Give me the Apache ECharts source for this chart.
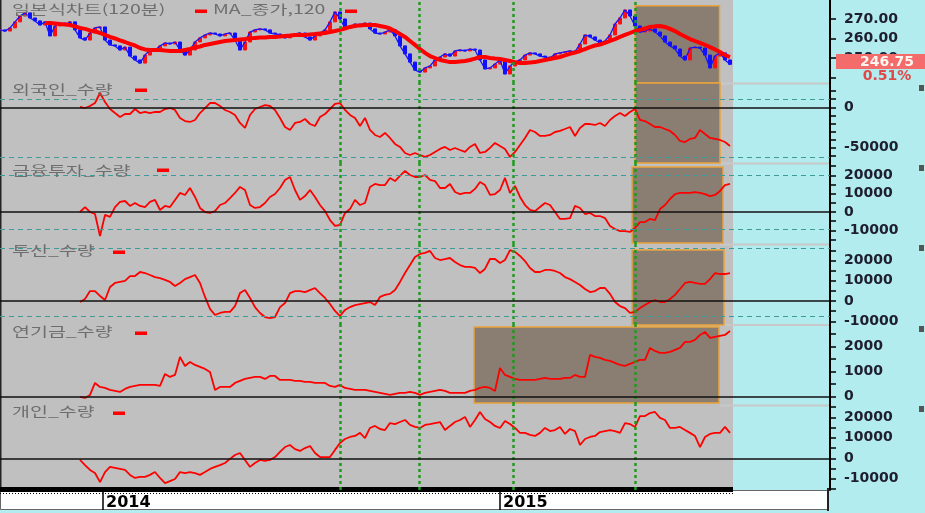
<!DOCTYPE html>
<html>
<head>
<meta charset="utf-8">
<title>일본식차트</title>
<script src="https://cdn.jsdelivr.net/npm/echarts@6.0.0/dist/echarts.min.js"></script>
<style>
  html, body { margin: 0; padding: 0; background: #b2ecee; }
  #chart { width: 925px; height: 513px; }
</style>
</head>
<body>
<div id="chart"></div>
<script>
// x positions are bar numbers; the right axis sits at bar 166
const xMax = 166;

// price (120 min bars), close values
const priceClose = [
  264.4,263.8,265.4,268.5,271.5,273.1,270.5,269.0,266.9,268.5,
  261.3,266.4,267.9,266.9,268.5,264.4,260.3,259.2,262.8,265.4,
  265.9,259.2,256.7,256.2,254.1,255.6,251.0,249.0,247.4,251.5,
  254.1,254.1,256.2,257.7,257.2,258.2,254.1,251.5,254.1,258.2,
  260.3,261.8,262.8,262.3,261.3,262.3,262.8,259.2,254.1,258.2,
  263.3,264.4,264.9,264.4,262.8,262.3,261.8,260.3,261.3,262.3,
  262.8,260.8,259.2,261.3,262.8,264.4,268.5,273.6,270.0,265.4,
  265.9,267.4,266.9,267.9,264.9,262.8,262.3,263.3,264.4,261.3,
  256.2,252.1,247.9,243.8,242.8,244.9,245.9,249.0,250.5,252.1,
  251.0,253.6,254.1,253.6,254.6,254.1,249.0,244.4,244.9,246.9,
  249.0,241.8,245.9,247.9,249.0,251.5,252.6,252.1,251.0,250.5,
  250.0,252.1,252.6,253.1,253.6,253.1,257.2,261.8,260.8,259.2,
  257.7,258.7,261.8,267.4,270.5,274.6,271.5,266.4,263.3,263.8,
  264.9,263.3,261.3,258.2,256.2,254.6,251.0,249.0,255.1,255.6,
  255.1,251.5,244.9,251.0,252.6,249.0,246.75
];

// MA_종가,120 starts at bar 9
const maStart = 9;
const ma120 = [
  267.9,267.9,267.7,267.4,267.2,266.9,266.2,265.4,264.9,264.1,
  263.6,262.8,261.8,260.8,260.0,259.0,258.2,257.2,256.4,255.1,
  254.4,254.1,254.1,254.1,253.8,253.6,253.6,253.6,254.1,254.6,
  255.4,255.9,256.7,257.2,257.7,258.2,258.7,259.0,259.2,259.5,
  259.7,260.0,260.3,260.5,260.5,260.8,260.8,261.0,261.3,261.5,
  261.8,261.8,261.8,262.1,262.3,262.6,262.8,263.3,263.8,264.4,
  265.1,265.9,266.4,266.7,266.9,266.9,266.9,266.4,265.9,265.1,
  263.8,262.3,260.8,258.7,256.7,254.6,252.6,251.0,250.0,249.0,
  248.5,247.9,247.9,248.2,248.5,249.0,249.7,250.5,250.5,250.0,
  249.7,249.5,249.0,248.5,247.9,247.4,247.4,247.7,247.9,248.5,
  249.0,249.5,250.0,250.5,251.3,252.1,252.8,253.6,254.6,255.6,
  256.4,256.9,257.7,258.7,259.7,260.8,261.8,262.8,263.8,264.4,
  265.1,265.9,266.2,266.4,265.9,264.9,263.8,262.3,261.0,259.7,
  258.7,257.7,256.7,255.6,254.4,253.1,251.5,250.5
];

// cumulative net quantities, all start at bar 16
const flowStart = 16;
const foreignQty = [
  400,-900,1600,5300,17700,6600,-2100,-7100,-12000,-8300,
  -8300,-2100,-7100,-5800,-7100,-5800,-5800,-2100,-900,-3300,
  -13200,-17000,-18200,-15700,-7100,-900,5300,5300,1600,-3300,
  -5800,-9500,-19400,-25600,-9500,-2100,400,2800,1600,-3300,
  -13200,-24400,-28100,-19400,-18200,-14500,-20700,-23200,-12000,-8300,
  -2100,4100,5300,-3300,-9500,-13200,-23200,-13200,-28100,-34300,
  -36800,-31800,-38000,-45400,-49100,-56600,-59100,-56600,-59100,-61500,
  -59100,-55300,-51600,-49100,-52900,-50400,-52900,-55300,-49100,-45400,
  -56600,-55300,-50400,-44200,-47900,-51600,-61500,-55300,-46700,-38000,
  -28100,-30600,-35500,-35500,-34300,-30600,-29300,-26900,-24400,-35500,
  -25600,-20700,-20700,-21900,-19400,-23200,-15700,-10800,-7100,-10800,
  -5800,-2100,-15700,-17000,-20700,-24400,-24400,-26900,-29300,-34300,
  -41700,-43000,-39200,-38000,-28100,-33000,-38000,-39200,-40500,-43000,
  -47900
];
const finInvQty = [
  0,2700,0,-1100,-13100,-1600,-2700,2700,5500,6000,
  3300,4900,3300,2700,5500,6600,1100,3300,2700,6600,
  10400,9300,13100,8200,2200,0,-500,500,3800,4900,
  7600,10400,13700,12000,3800,2200,2700,4900,8200,9800,
  13100,17500,19100,12000,6600,8700,12000,8200,3800,500,
  -4400,-7600,-7100,-500,1600,6600,3800,4900,13700,15300,
  14700,14700,18600,16900,19700,22400,20200,19100,19100,20200,
  17500,16900,13100,13100,15300,10900,9800,10400,10400,12600,
  16400,14700,9300,9800,12000,18600,10400,14200,8200,3800,
  1100,500,2700,4900,3800,0,-3800,-3800,-3300,3300,
  2200,-1100,-500,-2200,-2200,-3300,-7600,-9300,-10400,-10400,
  -10900,-8700,-5500,-5500,-3800,-4400,1600,3800,7100,9800,
  10400,10400,10400,10900,10400,9800,8700,9300,11500,14700,
  15300
];
const trustQty = [
  -500,1000,4900,4900,2500,500,6900,8900,9400,9900,
  12300,12300,14300,13800,12800,11800,11300,10400,9400,7400,
  8900,10800,11800,12800,8900,2000,-3900,-6900,-5900,-5400,
  -5400,-2500,3900,5400,1500,-3000,-5900,-7900,-8400,-7900,
  -3000,-1000,3900,4900,4900,4400,5400,6400,3900,1500,
  -1500,-4900,-7400,-4400,-3000,-2000,-1500,-1000,-500,-2000,
  2000,3000,3500,5400,9400,13800,17700,21700,23200,23700,
  24700,21200,20200,20700,21200,19200,17700,16800,16800,16300,
  13800,15800,20700,20700,18700,20200,25100,24200,22200,19700,
  16300,14300,14300,15300,15300,14800,13800,11800,10800,9400,
  7900,5900,4400,4900,6400,6400,3500,-500,-2500,-3500,
  -5900,-5400,-3500,-2000,-500,500,-500,-500,1000,3000,
  5900,8900,9400,8900,8400,8400,10800,13800,13300,13300,
  13800
];
const pensionQty = [
  -10,-50,70,550,390,350,270,230,190,310,
  390,430,470,470,470,470,430,910,790,870,
  1590,1230,1390,1270,1190,1110,990,270,390,390,
  390,550,630,710,750,790,790,710,830,830,
  670,670,670,630,630,590,590,550,550,550,
  430,390,470,350,310,270,270,270,230,190,
  150,110,70,110,150,150,190,150,70,150,
  190,230,270,230,150,150,150,150,230,270,
  350,390,350,230,1150,870,790,710,670,670,
  670,670,710,750,710,710,710,750,750,870,
  790,790,1670,1590,1550,1470,1430,1350,1270,1230,
  1310,1390,1470,1470,1950,1830,1750,1750,1790,1870,
  1950,2190,2190,2270,2470,2590,2350,2390,2430,2470,
  2630
];
const retailQty = [
  -800,-3300,-5700,-7200,-11600,-6700,-4200,-4700,-5200,-5700,
  -8100,-9600,-9100,-9100,-8100,-6700,-9600,-12100,-11100,-10100,
  -6700,-7200,-6700,-7200,-8100,-6700,-5200,-4200,-3300,-2300,
  -300,1600,2600,-800,-4200,-2300,-800,-1300,-800,600,
  3100,5500,6500,4500,3600,5000,6000,2600,600,600,
  600,4100,7500,9400,10400,10900,12400,9900,14800,15800,
  14300,13800,17200,16700,17700,18700,16300,15300,14800,16300,
  16700,17200,17700,13800,15800,17700,18700,20200,15300,18700,
  22600,19200,17700,15800,14800,18200,16700,14800,12400,12400,
  11400,10900,12400,14800,13300,13800,15300,11900,14300,13300,
  6500,9400,10400,10900,12800,13300,13800,13300,12400,17200,
  16700,15300,20600,20600,22100,22600,19700,18700,14800,14800,
  15300,13800,12400,10900,5500,10400,11900,12400,12400,15300,
  12400
];

// axis labels and ticks
const yearTickIdx = [20.6, 100];
const yearLabels = ['2014', '2015'];
const priceLabels = [270, 260, 250];
const priceTicks = [270, 260, 250, 240];
const foreignLabels = [0, -50000];
const foreignTicks = [20000, 10000, 0, -10000, -20000, -30000, -40000, -50000, -60000];
const finInvLabels = [20000, 10000, 0, -10000];
const finInvTicks = [25000, 20000, 15000, 10000, 5000, 0, -5000, -10000, -15000];
const trustLabels = [20000, 10000, 0, -10000];
const trustTicks = [25000, 20000, 15000, 10000, 5000, 0, -5000, -10000];
const pensionLabels = [2000, 1000, 0];
const pensionTicks = [2500, 2000, 1500, 1000, 500, 0];
const retailLabels = [20000, 10000, 0, -10000];
const retailTicks = [25000, 20000, 15000, 10000, 5000, 0, -5000, -10000, -15000];

// reference levels (dashed) and marked bars
const foreignRef = [10000, -62000];
const finInvRef = [20000, -9300];
const trustRef = [26000, -7400];
const eventIdx = [68, 83.8, 102.7, 127];
const changePct = '0.51%';

// highlighted zones: [x from, x to, y top, y bottom]
const priceZone = [127, 143.9, 276.7, 237.2];
const foreignZone = [127, 144, 30100, -69000];
const finInvZone = [126.4, 144.6, 24570, -16900];
const trustZone = [126.4, 144.8, 25100, -11830];
const pensionZone = [94.8, 143.8, 2790, -250];

// layout of the six stacked panes (pixel top/bottom) and their value ranges
const gridBox = [[0, 83], [83, 163], [163, 244], [244, 325], [325, 405], [405, 490]];
const yRange = [[237.2, 279.7], [-69000, 30100], [-17470, 26750], [-11830, 28100], [-332, 2868], [-15470, 26010]];

const chart = echarts.init(document.getElementById('chart'));

const toPairs = (arr, start) => arr.map((v, k) => [start + k, v]);
const priceCandles = priceClose.map((c, k) => {
  const o = k > 0 ? priceClose[k - 1] : c;
  return [k, o, c, Math.min(o, c), Math.max(o, c)];
});

function guideLines(refs, withZero) {
  const lines = eventIdx.map(x => ({ xAxis: x, lineStyle: { color: '#1f9a1f', type: [3, 3], width: 2.5 } }));
  if (withZero) lines.push({ yAxis: 0, lineStyle: { color: '#111', type: 'solid', width: 1.5 } });
  refs.forEach(v => lines.push({ yAxis: v, lineStyle: { color: '#3d9b9b', type: [5, 4], width: 1 } }));
  return {
    silent: true, symbol: ['none', 'none'], label: { show: false }, animation: false,
    data: lines
  };
}

function zoneArea(z) {
  if (!z) return undefined;
  return {
    silent: true,
    itemStyle: { color: '#8a7e72', borderColor: '#e9a23b', borderWidth: 1.5 },
    data: [[{ xAxis: z[0], yAxis: z[2] }, { xAxis: z[1], yAxis: z[3] }]]
  };
}

function yAxisFor(k, labels, ticks, fmt) {
  return {
    gridIndex: k, type: 'value', position: 'right',
    min: yRange[k][0], max: yRange[k][1],
    splitLine: { show: false },
    axisLine: { show: true, onZero: false, lineStyle: { color: '#000', width: 2 } },
    axisTick: { show: true, inside: false, length: 6, customValues: ticks, lineStyle: { color: '#000', width: 1.5 } },
    axisLabel: {
      customValues: labels, formatter: fmt, margin: 14,
      color: '#1e1e2e', fontSize: 14, fontWeight: 'bold', fontFamily: 'DejaVu Sans'
    }
  };
}

const flowPanels = [
  { data: foreignQty, refs: foreignRef, zone: foreignZone },
  { data: finInvQty, refs: finInvRef, zone: finInvZone },
  { data: trustQty, refs: trustRef, zone: trustZone },
  { data: pensionQty, refs: [], zone: pensionZone },
  { data: retailQty, refs: [], zone: null }
];

const series = [
  {
    type: 'line', xAxisIndex: 0, yAxisIndex: 0,
    data: toPairs(priceClose, 0), showSymbol: false,
    lineStyle: { color: '#1515ff', width: 1.3 },
    markArea: zoneArea(priceZone),
    markLine: guideLines([], false)
  },
  {
    type: 'candlestick', xAxisIndex: 0, yAxisIndex: 0,
    data: priceCandles, encode: { x: 0, y: [1, 2, 3, 4] },
    barWidth: 3,
    itemStyle: { color: '#ff1010', color0: '#1010ff', borderColor: '#ff1010', borderColor0: '#1010ff', borderWidth: 1 }
  },
  {
    type: 'line', xAxisIndex: 0, yAxisIndex: 0,
    data: toPairs(ma120, maStart), showSymbol: false,
    lineStyle: { color: '#ff0000', width: 4 }
  }
];
flowPanels.forEach((p, n) => {
  series.push({
    type: 'line', xAxisIndex: n + 1, yAxisIndex: n + 1,
    data: toPairs(p.data, flowStart), showSymbol: false,
    lineStyle: { color: '#ff0000', width: 1.8 },
    markArea: zoneArea(p.zone),
    markLine: guideLines(p.refs, true)
  });
});

const numFmt = v => String(v);

// panel captions
const captions = [
  { text: '일본식차트(120분)', x: 12, y: 9 },
  { text: 'MA_종가,120', x: 213, y: 9 },
  { text: '외국인_수량', x: 12, y: 89 },
  { text: '금융투자_수량', x: 12, y: 170 },
  { text: '투신_수량', x: 12, y: 250 },
  { text: '연기금_수량', x: 12, y: 331 },
  { text: '개인_수량', x: 12, y: 411 }
];
const captionDashes = [[195, 11], [345, 11], [135, 90], [157, 170], [113, 252], [135, 333], [113, 413]];

const graphics = [
  { type: 'rect', z: -1, shape: { x: 0, y: 0, width: 733, height: 490 }, style: { fill: '#c0c0c0' } },
  { type: 'line', z: -1, shape: { x1: 0.75, y1: 0, x2: 0.75, y2: 490 }, style: { stroke: '#222', lineWidth: 1.5 } },
  { type: 'rect', z: -1, shape: { x: 0.5, y: 490.5, width: 827, height: 19 }, style: { fill: '#ffffff', stroke: '#666', lineWidth: 1 } },
  { type: 'line', z: -1, shape: { x1: 828, y1: 488, x2: 828, y2: 511 }, style: { stroke: '#222', lineWidth: 2 } },
  { type: 'rect', z: -1, shape: { x: 0, y: 487, width: 733, height: 5 }, style: { fill: '#000' } },
  { type: 'line', z: -1, shape: { x1: 0, y1: 493.5, x2: 733, y2: 493.5 }, style: { stroke: '#000', lineWidth: 1, lineDash: [1, 2] } }
];
[83.5, 163.5, 244.5, 325, 405.5].forEach(y => {
  graphics.push({ type: 'line', z: -1, shape: { x1: 720, y1: y, x2: 829, y2: y }, style: { stroke: '#c8c8c8', lineWidth: 2 } });
});
[85, 165, 245, 326, 406].forEach(y => {
  graphics.push({ type: 'rect', z: 5, shape: { x: 919, y: y, width: 5, height: 6 }, style: { fill: '#555' } });
});
captions.forEach(c => {
  graphics.push({
    type: 'text', z: 10, x: c.x, y: c.y, scaleX: 1.5,
    style: { text: c.text, fill: '#6e6e6e', fontSize: 13, fontFamily: 'Noto Sans CJK KR', verticalAlign: 'middle' }
  });
});
captionDashes.forEach(([x, y]) => {
  graphics.push({ type: 'rect', z: 10, shape: { x: x, y: y - 1.5, width: 12, height: 3.5 }, style: { fill: '#ff0000' } });
});
graphics.push(
  { type: 'rect', z: 100, shape: { x: 836, y: 54, width: 89, height: 15 }, style: { fill: '#f36b6b' } },
  {
    type: 'text', z: 101, x: 887, y: 62,
    style: { text: priceClose[priceClose.length - 1].toFixed(2), fill: '#fff6f0', fontSize: 14, fontWeight: 'bold', fontFamily: 'DejaVu Sans', align: 'center', verticalAlign: 'middle' }
  },
  {
    type: 'text', z: 101, x: 887, y: 76,
    style: { text: changePct, fill: '#e04848', fontSize: 14, fontWeight: 'bold', fontFamily: 'DejaVu Sans', align: 'center', verticalAlign: 'middle' }
  }
);

const option = {
  animation: false,
  backgroundColor: '#b2ecee',
  grid: gridBox.map(([t, b]) => ({ left: 0, right: 95, top: t, height: b - t })),
  xAxis: gridBox.map((_, k) => ({
    gridIndex: k, type: 'value', min: 0, max: xMax, show: k === 5,
    splitLine: { show: false },
    axisLine: { show: false, onZero: false },
    axisTick: { show: true, customValues: yearTickIdx, length: 20, lineStyle: { color: '#000', width: 1.5 } },
    axisLabel: {
      show: true, customValues: yearTickIdx,
      formatter: v => yearLabels[yearTickIdx.indexOf(v)] || '',
      align: 'left', padding: [0, 0, 0, 3], margin: 5,
      color: '#000', fontSize: 16, fontWeight: 'bold', fontFamily: 'DejaVu Sans'
    }
  })),
  yAxis: [
    yAxisFor(0, priceLabels, priceTicks, v => v.toFixed(2)),
    yAxisFor(1, foreignLabels, foreignTicks, numFmt),
    yAxisFor(2, finInvLabels, finInvTicks, numFmt),
    yAxisFor(3, trustLabels, trustTicks, numFmt),
    yAxisFor(4, pensionLabels, pensionTicks, numFmt),
    yAxisFor(5, retailLabels, retailTicks, numFmt)
  ],
  graphic: graphics,
  series: series
};

chart.setOption(option);
</script>
</body>
</html>
